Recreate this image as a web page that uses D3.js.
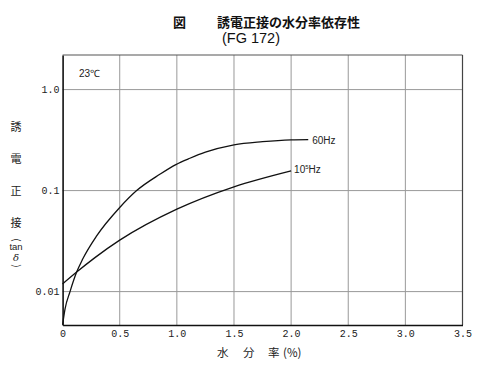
<!DOCTYPE html>
<html><head><meta charset="utf-8">
<script src="https://cdn.jsdelivr.net/npm/d3@7"></script>
<style>body{margin:0;background:#fff}svg{display:block}</style>
</head><body>
<script>
// ---- data ----
const xTicks = [0, 0.5, 1.0, 1.5, 2.0, 2.5, 3.0, 3.5];
const xTickLabels = ["0", "0.5", "1.0", "1.5", "2.0", "2.5", "3.0", "3.5"];
const yTicks = [1.0, 0.1, 0.01];
const yTickLabels = ["1.0", "0.1", "0.01"];
const series60Hz_x = [0, 0.021, 0.065, 0.123, 0.176, 0.298, 0.5, 0.648, 0.851, 0.991, 1.114, 1.25, 1.5, 1.75, 2.0, 2.15];
const series60Hz_y = [0.0047, 0.0067, 0.01, 0.0156, 0.021, 0.0356, 0.068, 0.1, 0.145, 0.181, 0.209, 0.24, 0.284, 0.305, 0.318, 0.32];
const series1e5Hz_x = [0, 0.123, 0.283, 0.5, 1.0, 1.5, 2.0];
const series1e5Hz_y = [0.0119, 0.0156, 0.0217, 0.0323, 0.0655, 0.109, 0.157];

const W = 500, H = 379;
const svg = d3.select("body").append("svg").attr("width", W).attr("height", H);
const L = 62.6, R = 462.5, T = 55, B = 325;
const x = d3.scaleLinear().domain([0, 3.5]).range([L, R]);
const y = d3.scaleLog().domain([0.00467, 2.2]).range([B, T]);

// grid
const g = svg.append("g");
g.selectAll(".vg").data(xTicks.slice(1, -1)).enter().append("line")
  .attr("x1", d => x(d)).attr("x2", d => x(d)).attr("y1", T).attr("y2", B)
  .attr("stroke", "#999").attr("stroke-width", 1);
g.selectAll(".hg").data(yTicks).enter().append("line")
  .attr("x1", L).attr("x2", R).attr("y1", d => y(d)).attr("y2", d => y(d))
  .attr("stroke", "#999").attr("stroke-width", 1);

// frame
svg.append("line").attr("x1", L).attr("x2", R).attr("y1", T).attr("y2", T).attr("stroke", "#555").attr("stroke-width", 1.2);
svg.append("line").attr("x1", R).attr("x2", R).attr("y1", T).attr("y2", B).attr("stroke", "#444").attr("stroke-width", 1.2);

// axes
const xAxis = d3.axisBottom(x).tickValues(xTicks).tickFormat((d, i) => xTickLabels[i]).tickSize(0).tickPadding(5);
const ya = d3.axisLeft(y).tickValues(yTicks).tickFormat((d, i) => yTickLabels[i]).tickSize(0).tickPadding(3);
const gx = svg.append("g").attr("transform", `translate(0,${B})`).call(xAxis);
const gy = svg.append("g").attr("transform", `translate(${L},0)`).call(ya);
[gx, gy].forEach(a => {
  a.select(".domain").attr("stroke", "#111").attr("stroke-width", 1.6);
  a.selectAll("text").attr("font-family", "Liberation Mono, DejaVu Sans Mono, monospace")
    .attr("font-size", 10).attr("fill", "#222");
});
gx.selectAll("text").attr("dy", "0.71em");

// curves
const line = d3.line().x(d => x(d[0])).y(d => y(d[1])).curve(d3.curveMonotoneX);
const d60 = series60Hz_x.map((v, i) => [v, series60Hz_y[i]]);
const d1e5 = series1e5Hz_x.map((v, i) => [v, series1e5Hz_y[i]]);
[d60, d1e5].forEach(d => svg.append("path").attr("d", line(d)).attr("fill", "none")
  .attr("stroke", "#111").attr("stroke-width", 1.3));

// curve labels
svg.append("text").attr("x", x(2.15) + 4).attr("y", y(0.32) + 4)
  .attr("font-family", "Liberation Sans, Arial, sans-serif").attr("font-size", 10).attr("fill", "#222").text("60Hz");
const t5 = svg.append("text").attr("x", x(2.0) + 3).attr("y", y(0.157) + 2)
  .attr("font-family", "Liberation Sans, Arial, sans-serif").attr("font-size", 10).attr("fill", "#222");
t5.append("tspan").text("10");
t5.append("tspan").attr("font-size", 6).attr("dy", -4).text("5");
t5.append("tspan").attr("dy", 4).text("Hz");

// temperature
svg.append("text").attr("x", 79).attr("y", 77).attr("font-family", "Liberation Sans, Arial, sans-serif")
  .attr("font-size", 10).attr("fill", "#222").text("23℃");

// title
const jp = "Noto Sans CJK JP, sans-serif";
svg.append("text").attr("x", 173).attr("y", 27).attr("font-family", jp).attr("font-size", 13).attr("font-weight", "bold").attr("fill", "#111").text("図");
svg.append("text").attr("x", 217).attr("y", 27).attr("font-family", jp).attr("font-size", 13).attr("font-weight", "bold").attr("fill", "#111").text("誘電正接の水分率依存性");
svg.append("text").attr("x", 222).attr("y", 43).attr("font-family", "Liberation Sans, Arial, sans-serif").attr("font-size", 14.5).attr("fill", "#111").text("(FG 172)");

// x title
const xt = [["水", 217], ["分", 243], ["率", 268], ["(%)", 283]];
xt.forEach(([c, xx]) => svg.append("text").attr("x", xx).attr("y", 357)
  .attr("font-family", jp).attr("font-size", 11.5).attr("fill", "#222").text(c));

// y title (vertical)
const yt = [["誘", 127], ["電", 159], ["正", 191], ["接", 223]];
yt.forEach(([c, yy]) => svg.append("text").attr("x", 16).attr("y", yy + 4).attr("text-anchor", "middle")
  .attr("font-family", jp).attr("font-size", 11).attr("fill", "#222").text(c));
svg.append("text").attr("transform", "translate(16,240) rotate(90)").attr("text-anchor", "middle").attr("dy", "0.35em")
  .attr("font-family", jp).attr("font-size", 10).attr("fill", "#222").text("(");
svg.append("text").attr("x", 16).attr("y", 250).attr("text-anchor", "middle")
  .attr("font-family", "Liberation Sans, Arial, sans-serif").attr("font-size", 9.5).attr("fill", "#222").text("tan");
svg.append("text").attr("x", 16).attr("y", 261).attr("text-anchor", "middle")
  .attr("font-family", "DejaVu Serif, serif").attr("font-style", "italic").attr("font-size", 10).attr("fill", "#222").text("δ");
svg.append("text").attr("transform", "translate(16,266) rotate(90)").attr("text-anchor", "middle").attr("dy", "0.35em")
  .attr("font-family", jp).attr("font-size", 10).attr("fill", "#222").text(")");
</script>
</body></html>
